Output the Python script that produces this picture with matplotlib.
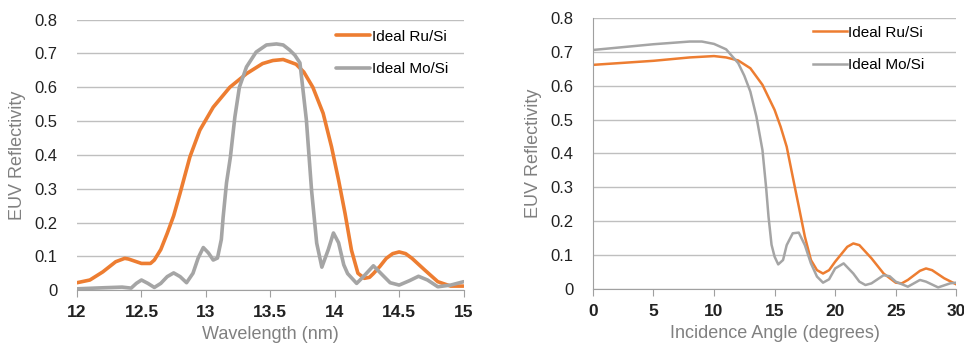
import numpy as np
import matplotlib
matplotlib.use("Agg")
import matplotlib.pyplot as plt

plt.rcParams["font.family"] = ["Liberation Sans", "DejaVu Sans"]

# left panel: reflectivity vs wavelength
wl_ru = [12.0, 12.1, 12.2, 12.3, 12.37, 12.4, 12.5, 12.57, 12.6, 12.65, 12.7, 12.75, 12.8,
         12.876, 12.953, 13.057, 13.186, 13.315, 13.44, 13.52, 13.6, 13.7, 13.76, 13.83,
         13.91, 13.975, 14.03, 14.08, 14.13, 14.18, 14.23, 14.27, 14.3, 14.35, 14.4, 14.45,
         14.5, 14.55, 14.6, 14.7, 14.8, 14.9, 15.0]
r_ru = [0.022, 0.03, 0.054, 0.084, 0.094, 0.092, 0.079, 0.079, 0.089, 0.12, 0.168, 0.22,
        0.287, 0.394, 0.473, 0.541, 0.60, 0.64, 0.67, 0.679, 0.682, 0.668, 0.645, 0.60,
        0.523, 0.424, 0.325, 0.227, 0.118, 0.05, 0.035, 0.038, 0.049, 0.07, 0.094, 0.108,
        0.113, 0.108, 0.094, 0.059, 0.025, 0.012, 0.012]

wl_mo = [12.0, 12.2, 12.35, 12.42, 12.46, 12.5, 12.55, 12.6, 12.65, 12.7, 12.75, 12.8,
         12.85, 12.9, 12.94, 12.98, 13.02, 13.057, 13.09, 13.12, 13.134, 13.16, 13.19,
         13.225, 13.26, 13.315, 13.39, 13.47, 13.548, 13.6, 13.65, 13.69, 13.73, 13.78,
         13.82, 13.86, 13.9, 13.95, 13.99, 14.03, 14.07, 14.1, 14.17, 14.22, 14.3, 14.37,
         14.43, 14.5, 14.58, 14.65, 14.72, 14.8, 14.9, 15.0]
r_mo = [0.004, 0.007, 0.009, 0.006, 0.02, 0.03, 0.02, 0.008, 0.02, 0.04, 0.051, 0.04,
        0.022, 0.05, 0.095, 0.126, 0.11, 0.089, 0.095, 0.15, 0.216, 0.317, 0.393,
        0.512, 0.60, 0.66, 0.704, 0.725, 0.728, 0.725, 0.71, 0.695, 0.672, 0.503,
        0.296, 0.139, 0.068, 0.12, 0.169, 0.14, 0.075, 0.049, 0.02, 0.039, 0.072, 0.045,
        0.022, 0.015, 0.028, 0.041, 0.03, 0.01, 0.015, 0.025]

# right panel: reflectivity vs incidence angle
ang_ru = [0, 5, 8, 10, 11, 12, 13, 14, 15, 15.5, 16, 16.5, 17, 17.5, 18, 18.5, 19, 19.5,
          20, 21, 21.5, 22, 23, 24, 25, 25.5, 26, 27, 27.5, 28, 29, 30]
a_ru = [0.662, 0.674, 0.684, 0.688, 0.684, 0.675, 0.652, 0.603, 0.529, 0.479, 0.42, 0.331,
        0.243, 0.154, 0.085, 0.055, 0.045, 0.055, 0.08, 0.124, 0.134, 0.129, 0.09, 0.045,
        0.018, 0.016, 0.026, 0.053, 0.06, 0.055, 0.031, 0.013]

ang_mo = [0, 5, 8, 9, 10, 11, 12, 12.5, 13, 13.5, 14, 14.3, 14.5, 14.75, 15, 15.3, 15.7,
          16, 16.5, 17, 17.5, 18, 18.5, 19, 19.5, 20, 20.7, 21.5, 22, 22.5, 23, 24, 24.5,
          25, 26, 27, 27.5, 28.5, 29.5, 30]
a_mo = [0.706, 0.723, 0.731, 0.731, 0.724, 0.708, 0.667, 0.63, 0.583, 0.509, 0.41, 0.30,
        0.213, 0.13, 0.095, 0.072, 0.085, 0.129, 0.164, 0.166, 0.129, 0.075, 0.036, 0.018,
        0.028, 0.06, 0.075, 0.045, 0.021, 0.011, 0.016, 0.04, 0.037, 0.021, 0.006, 0.026,
        0.021, 0.004, 0.016, 0.018]

orange = "#ED7D31"
gray = "#A5A5A5"

fig = plt.figure(figsize=(9.64, 3.5), dpi=100)
ax1 = fig.add_axes([0.0799, 0.171, 0.401, 0.773])
ax2 = fig.add_axes([0.615, 0.175, 0.377, 0.773])


def style(ax, xlim, xticks, xlabel, left_spine):
    ax.set_xlim(xlim)
    ax.set_ylim(0, 0.8)
    ax.set_xticks(xticks)
    ax.set_xticklabels([("%g" % t) for t in xticks], fontsize=12.5, fontweight="bold", color="#222222")
    ax.set_yticks(np.arange(0, 0.81, 0.1))
    ax.set_yticklabels(["0"] + ["%.1f" % t for t in np.arange(0.1, 0.81, 0.1)],
                       fontsize=12, color="#222222")
    ax.grid(axis="y", color="#BFBFBF", linewidth=1)
    ax.set_axisbelow(True)
    for s in ["top", "right"]:
        ax.spines[s].set_visible(False)
    ax.spines["left"].set_visible(left_spine)
    ax.spines["left"].set_color("#A0A0A0")
    ax.spines["bottom"].set_color("#A0A0A0")
    ax.tick_params(axis="y", length=0, pad=14)
    ax.tick_params(axis="x", length=5, color="#A0A0A0", pad=6)
    ax.set_xlabel(xlabel, fontsize=13, color="#808080", labelpad=4)
    ax.set_ylabel("EUV Reflectivity", fontsize=13, color="#808080", labelpad=6)


ax1.plot(wl_ru, r_ru, color=orange, lw=2.6, label="Ideal Ru/Si", solid_capstyle="round",
         solid_joinstyle="round")
ax1.plot(wl_mo, r_mo, color=gray, lw=2.6, label="Ideal Mo/Si", solid_capstyle="round",
         solid_joinstyle="round")
style(ax1, (12, 15), [12, 12.5, 13, 13.5, 14, 14.5, 15], "Wavelength (nm)", False)
ax1.legend(loc="upper right", frameon=False, fontsize=11, handlelength=2.2,
           handletextpad=0.1, labelspacing=1.2, bbox_to_anchor=(0.975, 0.985), borderaxespad=0)

ax2.plot(ang_ru, a_ru, color=orange, lw=1.8, label="Ideal Ru/Si", solid_joinstyle="round")
ax2.plot(ang_mo, a_mo, color=gray, lw=1.8, label="Ideal Mo/Si", solid_joinstyle="round")
style(ax2, (0, 30), [0, 5, 10, 15, 20, 25, 30], "Incidence Angle (degrees)", True)
ax2.legend(loc="upper right", frameon=False, fontsize=11, handlelength=2.2,
           handletextpad=0.1, labelspacing=1.2, bbox_to_anchor=(0.93, 0.995), borderaxespad=0)

fig.savefig("out.png", dpi=100)
